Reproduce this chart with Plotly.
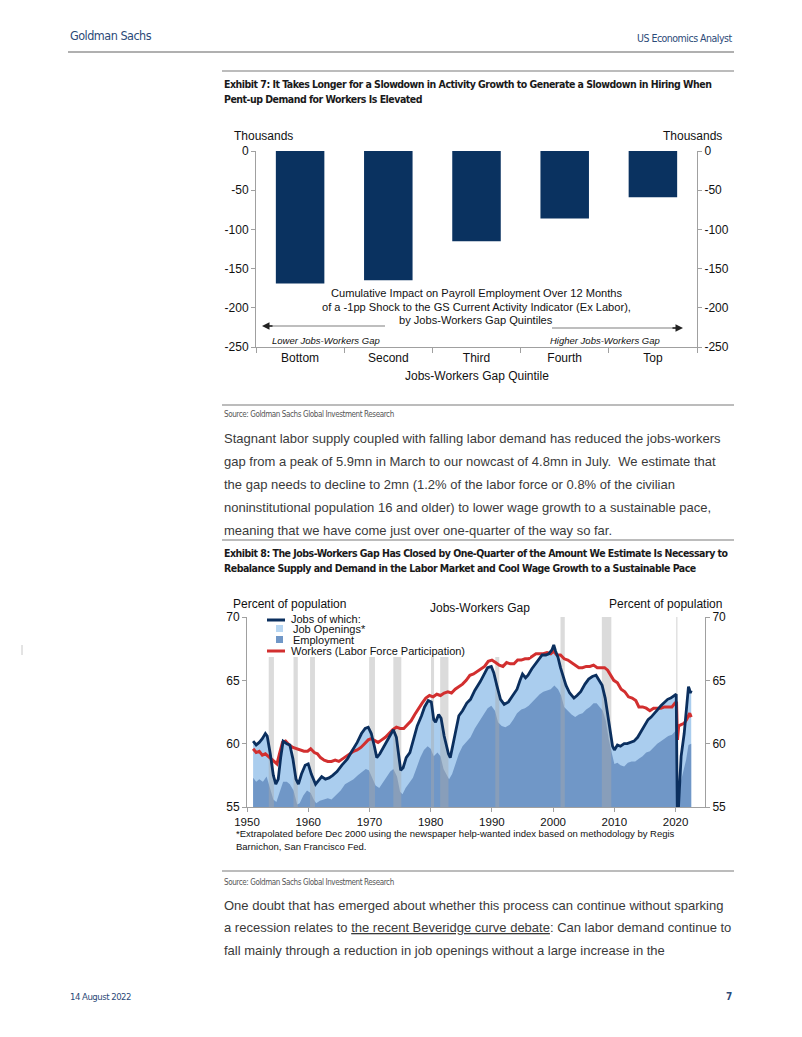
import plotly.graph_objects as go

# browser body keeps its default 8px margin -> figure 786x1021 fills the 802x1037 page
OFF = 8
FW, FH = 786, 1021
def X(px): return (px - OFF) / FW
def Y(py): return 1 - (py - OFF) / FH

# ---------------- Exhibit 7 data ----------------
quintiles = ["Bottom", "Second", "Third", "Fourth", "Top"]
impact = [-169, -165, -115, -86, -59]
e7_tickvals = [0, -50, -100, -150, -200, -250]
e7_ticktext = ["0", "-50", "-100", "-150", "-200", "-250"]

# ---------------- Exhibit 8 data ----------------
jobs_year = [1951.0, 1951.5, 1952.0, 1952.5, 1953.0, 1953.3, 1953.8, 1954.3, 1954.7, 1955.1,
             1955.5, 1955.9, 1956.5, 1957.0, 1957.5, 1958.0, 1958.4, 1958.9, 1959.5, 1960.0,
             1960.5, 1961.2, 1961.7, 1962.2, 1962.8, 1963.4, 1964.0, 1964.7, 1965.5, 1966.4,
             1967.0, 1968.0, 1968.7, 1969.3, 1969.8, 1970.3, 1970.8, 1971.2, 1971.7, 1972.3,
             1972.9, 1973.5, 1973.9, 1974.4, 1974.8, 1975.1, 1975.5, 1976.0, 1976.6, 1977.2,
             1977.8, 1978.5, 1979.0, 1979.6, 1980.1, 1980.5, 1980.8, 1981.3, 1981.7, 1982.2,
             1982.9, 1983.2, 1983.6, 1984.0, 1984.6, 1985.2, 1985.9, 1986.5, 1987.2, 1988.1,
             1988.8, 1989.3, 1989.9, 1990.3, 1990.8, 1991.4, 1992.0, 1992.7, 1993.4, 1994.1,
             1994.6, 1995.0, 1995.5, 1995.9, 1996.5, 1997.0, 1997.6, 1998.2, 1998.8, 1999.3,
             1999.8, 2000.1, 2000.4, 2000.8, 2001.2, 2001.6, 2002.1, 2002.7, 2003.4, 2003.9,
             2004.5, 2005.2, 2005.8, 2006.4, 2007.0, 2007.5, 2008.0, 2008.5, 2008.9, 2009.3,
             2009.7, 2010.0, 2010.5, 2011.0, 2011.6, 2012.1, 2012.7, 2013.2, 2013.8, 2014.4,
             2014.9, 2015.5, 2016.0, 2016.6, 2017.1, 2017.6, 2018.2, 2018.7, 2019.2, 2019.7,
             2020.1, 2020.3, 2020.6, 2020.9, 2021.4, 2021.9, 2022.1, 2022.25, 2022.4, 2022.55]
jobs_pct = [60.2, 59.9, 60.1, 60.4, 60.8, 60.6, 59.2, 57.5, 56.8, 57.2,
            58.9, 60.2, 60.0, 59.9, 58.8, 57.2, 56.8, 57.6, 58.3, 58.4,
            57.6, 56.8, 57.1, 57.4, 57.2, 57.3, 57.5, 57.8, 58.3, 58.8,
            59.3, 60.1, 60.8, 61.2, 61.3, 60.8, 59.8, 58.9, 59.2, 59.7,
            60.2, 60.8, 61.1, 60.5, 59.0, 57.9, 58.1, 58.9, 59.3, 60.3,
            61.4, 62.2, 62.9, 63.4, 63.3, 61.9, 61.7, 62.3, 62.0, 60.6,
            59.2, 58.9, 59.8, 60.9, 62.2, 62.6, 63.2, 63.5, 64.2, 64.9,
            65.6, 66.0, 66.1, 65.6, 64.6, 63.5, 63.1, 63.3, 63.8, 64.3,
            65.0, 65.5, 65.2, 65.4, 65.9, 66.2, 66.6, 67.0, 67.0, 67.1,
            67.4, 67.8, 67.3, 66.8, 66.0, 65.3, 64.6, 64.0, 63.6, 63.8,
            64.1, 64.7, 65.1, 65.3, 65.4, 65.0, 64.6, 63.6, 62.3, 60.8,
            59.8, 59.5, 59.9, 59.8, 60.0, 60.0, 60.1, 60.2, 60.5, 61.0,
            61.5, 61.9, 62.1, 62.4, 62.7, 63.0, 63.3, 63.5, 63.6, 63.8,
            63.9, 53.4, 56.6, 59.0, 60.8, 63.4, 64.5, 64.3, 64.0, 64.2]

emp_year = [1951.0, 1951.5, 1952.0, 1952.6, 1953.2, 1953.7, 1954.3, 1954.8, 1955.3, 1955.9,
            1956.5, 1957.0, 1957.6, 1958.2, 1958.6, 1959.2, 1959.8, 1960.4, 1960.9, 1961.3,
            1961.9, 1962.5, 1963.2, 1963.8, 1964.5, 1965.3, 1966.0, 1966.7, 1967.4, 1968.1,
            1968.8, 1969.4, 1969.9, 1970.5, 1971.0, 1971.6, 1972.2, 1972.8, 1973.4, 1973.9,
            1974.5, 1975.0, 1975.4, 1975.9, 1976.5, 1977.1, 1977.7, 1978.3, 1978.9, 1979.5,
            1980.0, 1980.5, 1981.1, 1981.6, 1982.1, 1982.6, 1983.0, 1983.5, 1984.0, 1984.6,
            1985.2, 1985.9, 1986.5, 1987.2, 1988.0, 1988.7, 1989.3, 1989.9, 1990.5, 1991.0,
            1991.6, 1992.2, 1992.9, 1993.5, 1994.1, 1994.8, 1995.4, 1996.0, 1996.6, 1997.2,
            1997.8, 1998.4, 1999.0, 1999.6, 2000.2, 2000.8, 2001.3, 2001.8, 2002.4, 2003.0,
            2003.6, 2004.2, 2004.8, 2005.4, 2006.0, 2006.6, 2007.1, 2007.6, 2008.1, 2008.6,
            2009.1, 2009.6, 2010.0, 2010.5, 2011.0, 2011.6, 2012.2, 2012.8, 2013.4, 2014.0,
            2014.6, 2015.2, 2015.8, 2016.4, 2017.0, 2017.6, 2018.2, 2018.8, 2019.4, 2019.9,
            2020.15, 2020.3, 2020.5, 2020.9, 2021.3, 2021.7, 2022.1, 2022.55]
emp_pct = [57.3, 57.0, 57.2, 57.0, 57.4, 56.6, 55.6, 55.4, 56.2, 57.0,
           57.0, 56.8, 56.3, 55.2, 55.3, 55.9, 56.3, 56.1, 55.6, 55.3,
           55.5, 55.6, 55.7, 55.6, 55.9, 56.3, 56.8, 57.0, 57.2, 57.5,
           57.8, 58.0, 57.9, 57.2, 56.7, 56.5, 56.9, 57.3, 57.8, 58.0,
           57.4, 56.2, 56.0, 56.5, 56.9, 57.3, 58.1, 58.9, 59.5, 59.8,
           59.6, 59.0, 59.3, 59.0, 58.0, 57.6, 57.2, 57.6, 58.4, 59.2,
           59.8, 60.2, 60.5, 61.2, 61.8, 62.3, 62.8, 63.0, 62.6, 61.7,
           61.4, 61.3, 61.5, 61.9, 62.4, 62.7, 62.8, 63.0, 63.3, 63.6,
           63.9, 64.1, 64.2, 64.3, 64.6, 64.3, 63.8, 62.9, 62.6, 62.3,
           62.1, 62.3, 62.4, 62.7, 62.9, 63.2, 63.2, 62.9, 62.6, 61.8,
           60.3, 59.2, 58.4, 58.5, 58.3, 58.2, 58.5, 58.6, 58.6, 58.8,
           59.0, 59.3, 59.4, 59.7, 60.0, 60.2, 60.4, 60.6, 60.7, 61.0,
           61.1, 51.3, 55.0, 57.1, 57.8, 58.7, 59.9, 60.0]

lfpr_year = [1951.0, 1951.5, 1952.0, 1952.5, 1953.0, 1953.5, 1954.0, 1954.5, 1954.9, 1955.3,
             1955.8, 1956.3, 1956.9, 1957.5, 1958.1, 1958.7, 1959.3, 1959.9, 1960.4, 1961.0,
             1961.5, 1962.0, 1962.6, 1963.2, 1963.8, 1964.4, 1965.0, 1965.6, 1966.2, 1966.8,
             1967.4, 1968.0, 1968.6, 1969.2, 1969.8, 1970.3, 1970.9, 1971.4, 1972.0, 1972.6,
             1973.2, 1973.8, 1974.4, 1975.0, 1975.6, 1976.2, 1976.8, 1977.4, 1978.0, 1978.6,
             1979.2, 1979.8, 1980.4, 1981.0, 1981.6, 1982.2, 1982.8, 1983.4, 1984.0, 1984.6,
             1985.2, 1985.8, 1986.4, 1987.0, 1987.6, 1988.2, 1988.8, 1989.4, 1990.0, 1990.6,
             1991.2, 1991.8, 1992.4, 1993.0, 1993.6, 1994.2, 1994.8, 1995.4, 1996.0, 1996.6,
             1997.2, 1997.8, 1998.4, 1999.0, 1999.6, 2000.1, 2000.6, 2001.2, 2001.8, 2002.4,
             2003.0, 2003.6, 2004.2, 2004.8, 2005.4, 2006.0, 2006.6, 2007.2, 2007.8, 2008.4,
             2008.9, 2009.4, 2009.9, 2010.5, 2011.1, 2011.7, 2012.3, 2012.9, 2013.5, 2014.0,
             2014.6, 2015.2, 2015.8, 2016.4, 2017.0, 2017.6, 2018.2, 2018.8, 2019.4, 2019.9,
             2020.15, 2020.3, 2020.5, 2020.9, 2021.4, 2021.8, 2022.1, 2022.3, 2022.55]
lfpr_pct = [59.6, 59.3, 59.4, 59.1, 59.2, 59.0, 58.8, 58.6, 58.4, 59.2,
            60.1, 60.2, 59.9, 59.7, 59.6, 59.5, 59.4, 59.4, 59.6, 59.3,
            59.2, 58.9, 58.7, 58.6, 58.6, 58.7, 58.6, 58.8, 59.0, 59.2,
            59.4, 59.5, 59.7, 60.0, 60.3, 60.4, 60.2, 60.1, 60.3, 60.5,
            60.8, 61.1, 61.3, 61.2, 61.2, 61.5, 61.8, 62.3, 62.8, 63.2,
            63.6, 63.8, 63.7, 63.9, 63.8, 64.0, 64.1, 64.0, 64.3, 64.5,
            64.7, 65.0, 65.4, 65.5, 65.7, 65.9, 66.1, 66.5, 66.6, 66.4,
            66.2, 66.1, 66.4, 66.3, 66.3, 66.6, 66.6, 66.7, 66.7, 66.9,
            67.1, 67.1, 67.1, 67.2, 67.1, 67.3, 67.0, 67.0, 66.7, 66.6,
            66.4, 66.2, 66.0, 66.0, 66.1, 66.1, 66.2, 66.0, 66.0, 66.0,
            65.8, 65.4, 65.0, 64.8, 64.3, 64.1, 63.7, 63.6, 63.4, 62.9,
            62.9, 62.8, 62.6, 62.8, 62.8, 62.8, 62.9, 62.9, 62.9, 63.2,
            63.3, 60.3, 61.4, 61.5, 61.6, 61.9, 62.3, 62.4, 62.1]

rec_start = [1953.55, 1957.6, 1960.3, 1969.95, 1973.9, 1980.05, 1981.55, 1990.55, 2001.2, 2007.95, 2020.1]
rec_end = [1954.4, 1958.3, 1961.1, 1970.9, 1975.2, 1980.55, 1982.9, 1991.2, 2001.9, 2009.5, 2020.3]

e8_yticks = [55, 60, 65, 70]
e8_xticks = [1950, 1960, 1970, 1980, 1990, 2000, 2010, 2020]

# ---------------- styles ----------------
ARIAL = "Liberation Sans, Arial, Helvetica, sans-serif"
COND = "DejaVu Sans Condensed, DejaVu Sans, sans-serif"
NAVY_TXT = "#2c4a78"
BAR = "#0a3260"
JOBS = "#0b2f5e"
RED = "#d22f2f"
LIGHT = "#aacdee"
EMP = "#7097c7"
AXC = "#a0a0a0"

fig = go.Figure()

# Exhibit 7 bars
fig.add_trace(go.Bar(x=quintiles, y=impact, marker=dict(color=BAR, line=dict(width=0)),
                     width=0.55, xaxis="x", yaxis="y", showlegend=False, hoverinfo="skip"))
fig.add_trace(go.Scatter(x=quintiles, y=impact, mode="markers", marker=dict(opacity=0),
                         xaxis="x", yaxis="y2", showlegend=False, hoverinfo="skip"))

# Exhibit 8 areas
fig.add_trace(go.Scatter(x=jobs_year, y=jobs_pct, mode="lines", line=dict(width=0, color=LIGHT),
                         fill="tozeroy", fillcolor=LIGHT, xaxis="x2", yaxis="y3",
                         showlegend=False, hoverinfo="skip"))
fig.add_trace(go.Scatter(x=emp_year, y=emp_pct, mode="lines", line=dict(width=0, color=EMP),
                         fill="tozeroy", fillcolor=EMP, xaxis="x2", yaxis="y3",
                         showlegend=False, hoverinfo="skip"))

# recession shading
y_lo, y_hi = e8_yticks[0], e8_yticks[-1]
rx, ry = [], []
for s, e in zip(rec_start, rec_end):
    rx += [s, s, e, e, s, None]
    ry += [y_lo, y_hi, y_hi, y_lo, y_lo, None]
fig.add_trace(go.Scatter(x=rx, y=ry, mode="lines", line=dict(width=0),
                         fill="toself", fillcolor="rgba(170,170,170,0.42)",
                         xaxis="x2", yaxis="y3", showlegend=False, hoverinfo="skip"))

# lines
fig.add_trace(go.Scatter(x=lfpr_year, y=lfpr_pct, mode="lines", line=dict(width=3, color=RED),
                         xaxis="x2", yaxis="y3", showlegend=False, hoverinfo="skip"))
fig.add_trace(go.Scatter(x=jobs_year, y=jobs_pct, mode="lines", line=dict(width=2.8, color=JOBS),
                         xaxis="x2", yaxis="y3", showlegend=False, hoverinfo="skip"))
fig.add_trace(go.Scatter(x=jobs_year, y=jobs_pct, mode="markers", marker=dict(opacity=0),
                         xaxis="x2", yaxis="y4", showlegend=False, hoverinfo="skip"))

tickfont = dict(family=ARIAL, size=12, color="#111")
common_y = dict(showgrid=False, zeroline=False, showline=True, linecolor=AXC, linewidth=1,
                ticks="outside", ticklen=4, tickcolor=AXC, tickfont=tickfont, automargin=False)

fig.update_layout(
    width=FW, height=FH, margin=dict(l=0, r=0, t=0, b=0, pad=0, autoexpand=False),
    paper_bgcolor="white", plot_bgcolor="white", showlegend=False,
    bargap=0.45,
    xaxis=dict(domain=[X(256), X(697)], anchor="y", type="category", range=[-0.5, 4.5],
               showgrid=False, zeroline=False, showline=True, linecolor=AXC, ticks="outside",
               tickson="boundaries", ticklen=5, tickcolor=AXC, tickfont=tickfont, automargin=False),
    yaxis=dict(domain=[Y(347), Y(151)], range=[-250, 0], anchor="x",
               tickvals=e7_tickvals, ticktext=e7_ticktext, **common_y),
    yaxis2=dict(domain=[Y(347), Y(151)], range=[-250, 0], anchor="x", overlaying="y", side="right",
                tickvals=e7_tickvals, ticktext=e7_ticktext, **common_y),
    xaxis2=dict(domain=[X(247), X(705)], anchor="y3", range=[1950, 2024.8],
                tickvals=e8_xticks, showgrid=False, zeroline=False, showline=True,
                linecolor=AXC, ticks="outside", ticklen=4, tickcolor=AXC,
                tickfont=dict(family=ARIAL, size=11.5, color="#111"), automargin=False),
    yaxis3=dict(domain=[Y(807), Y(617)], range=[55, 70], anchor="x2",
                tickvals=e8_yticks, **common_y),
    yaxis4=dict(domain=[Y(807), Y(617)], range=[55, 70], anchor="x2", overlaying="y3", side="right",
                tickvals=e8_yticks, **common_y),
)

shapes = []
def hline(x0, x1, y, color="#a6a6a6", width=1.5):
    shapes.append(dict(type="line", xref="paper", yref="paper", x0=X(x0), x1=X(x1),
                       y0=Y(y), y1=Y(y), line=dict(color=color, width=width), layer="above"))

hline(68, 734, 52, "#b0b0b0", 2)
hline(222, 734, 71, "#a6a6a6", 1.5)
hline(222, 734, 405, "#a6a6a6", 1.5)
hline(222, 734, 540, "#a6a6a6", 1.5)
hline(222, 734, 871, "#a6a6a6", 1.5)
# small margin mark
shapes.append(dict(type="line", xref="paper", yref="paper", x0=X(22), x1=X(22), y0=Y(645), y1=Y(655),
                   line=dict(color="#c8c8c8", width=1)))

# exhibit 7 arrow shafts
hline(268, 385, 326, "#a8a8a8", 1.5)
hline(552, 676, 328, "#a8a8a8", 1.5)

# exhibit 8 legend box
shapes.append(dict(type="rect", xref="paper", yref="paper", x0=X(258), x1=X(530), y0=Y(657), y1=Y(612),
                   fillcolor="white", line=dict(width=0), layer="above"))
hline(267, 285, 620, JOBS, 3)
hline(267, 285, 651, RED, 3)
shapes.append(dict(type="rect", xref="paper", yref="paper", x0=X(276), x1=X(283), y0=Y(632), y1=Y(625),
                   fillcolor="#b7d6f2", line=dict(width=0), layer="above"))
shapes.append(dict(type="rect", xref="paper", yref="paper", x0=X(276), x1=X(283), y0=Y(643), y1=Y(636),
                   fillcolor=EMP, line=dict(width=0), layer="above"))
fig.update_layout(shapes=shapes)

ann = []
def txt(x, y, s, size=12, family=ARIAL, color="#111", xanchor="left", weight=None, italic=False, ls=None):
    f = dict(family=family, size=size, color=color)
    if weight:
        f["weight"] = weight
    if italic:
        f["style"] = "italic"
    if ls is not None:
        s = "<span style='letter-spacing:%spx'>%s</span>" % (ls, s)
    ann.append(dict(x=X(x), y=Y(y), xref="paper", yref="paper", text=s, showarrow=False,
                    xanchor=xanchor, yanchor="middle", font=f, align="left"))

# header / footer
txt(68, 36, "Goldman Sachs", 12.5, COND, NAVY_TXT, ls=-0.5)
txt(734, 38, "US Economics Analyst", 10.5, COND, NAVY_TXT, xanchor="right", ls=-0.5)
txt(68, 996, "14 August 2022", 9.5, COND, NAVY_TXT, ls=-0.5)
txt(734, 996, "7", 10, COND, NAVY_TXT, xanchor="right", weight="bold")

# exhibit 7 title
txt(222, 84, "Exhibit 7: It Takes Longer for a Slowdown in Activity Growth to Generate a Slowdown in Hiring When",
    10.5, COND, "#1a1a1a", weight="bold", ls=-0.5)
txt(222, 99, "Pent-up Demand for Workers Is Elevated", 10.5, COND, "#1a1a1a", weight="bold", ls=-0.5)
txt(232, 136, "Thousands", 12)
txt(724, 136, "Thousands", 12, xanchor="right")
txt(476, 293, "Cumulative Impact on Payroll Employment Over 12 Months", 11.1, xanchor="center")
txt(476, 307, "of a -1pp Shock to the GS Current Activity Indicator (Ex Labor),", 11.1, xanchor="center")
txt(476, 320, "by Jobs-Workers Gap Quintiles", 11.1, xanchor="center")
txt(270, 340, "Lower Jobs-Workers Gap", 9.5, italic=True)
txt(662, 340, "Higher Jobs-Workers Gap", 9.5, italic=True, xanchor="right")
txt(477, 376, "Jobs-Workers Gap Quintile", 12, xanchor="center")
# arrowheads
ann.append(dict(x=X(262), y=Y(326), xref="paper", yref="paper", ax=12, ay=0, text="",
                showarrow=True, arrowhead=2, arrowsize=1, arrowwidth=1.5, arrowcolor="#222"))
ann.append(dict(x=X(683), y=Y(328), xref="paper", yref="paper", ax=-12, ay=0, text="",
                showarrow=True, arrowhead=2, arrowsize=1, arrowwidth=1.5, arrowcolor="#222"))

txt(222, 414, "Source: Goldman Sachs Global Investment Research", 8, COND, "#555", ls=-0.4)

PCOL = "#3a3a3a"
para1 = ["Stagnant labor supply coupled with falling labor demand has reduced the jobs-workers",
         "gap from a peak of 5.9mn in March to our nowcast of 4.8mn in July.  We estimate that",
         "the gap needs to decline to 2mn (1.2% of the labor force or 0.8% of the civilian",
         "noninstitutional population 16 and older) to lower wage growth to a sustainable pace,",
         "meaning that we have come just over one-quarter of the way so far."]
for i, line in enumerate(para1):
    txt(222, 439 + 22.9 * i, line, 13, ARIAL, PCOL)

txt(222, 553, "Exhibit 8: The Jobs-Workers Gap Has Closed by One-Quarter of the Amount We Estimate Is Necessary to",
    10.5, COND, "#1a1a1a", weight="bold", ls=-0.5)
txt(222, 568, "Rebalance Supply and Demand in the Labor Market and Cool Wage Growth to a Sustainable Pace",
    10.5, COND, "#1a1a1a", weight="bold", ls=-0.5)

txt(231, 604, "Percent of population", 12)
txt(724, 604, "Percent of population", 12, xanchor="right")
txt(480, 608, "Jobs-Workers Gap", 12, xanchor="center")
txt(289, 619, "Jobs of which:", 11)
txt(291, 629, "Job Openings*", 11)
txt(291, 640, "Employment", 11)
txt(289, 651, "Workers (Labor Force Participation)", 11)

txt(234, 833, "*Extrapolated before Dec 2000 using the newspaper help-wanted index based on methodology by Regis", 9.5)
txt(234, 846, "Barnichon, San Francisco Fed.", 9.5)

txt(222, 882, "Source: Goldman Sachs Global Investment Research", 8, COND, "#555", ls=-0.4)

para2 = ["One doubt that has emerged about whether this process can continue without sparking",
         "a recession relates to <span style='text-decoration:underline'>the recent Beveridge curve debate</span>: Can labor demand continue to",
         "fall mainly through a reduction in job openings without a large increase in the"]
for i, line in enumerate(para2):
    txt(222, 905 + 22.9 * i, line, 13, ARIAL, PCOL)

fig.update_layout(annotations=ann)

fig.write_html("out.html", config={"displayModeBar": False})
